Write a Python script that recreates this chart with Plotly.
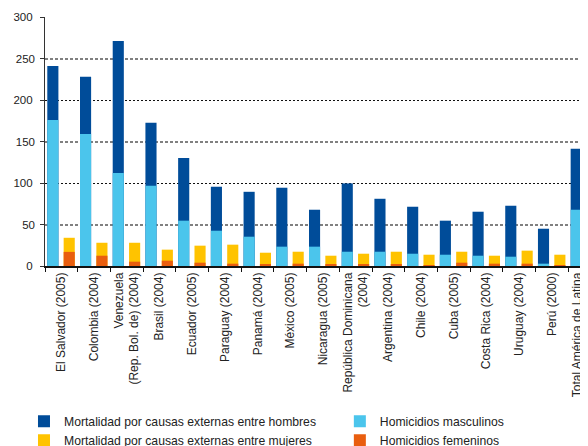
import plotly.graph_objects as go

countries = [
    "El Salvador (2005)", "Colombia (2004)", "Venezuela<br>(Rep. Bol. de) (2004)",
    "Brasil (2004)", "Ecuador (2005)", "Paraguay (2004)", "Panamá (2004)",
    "México (2005)", "Nicaragua (2005)", "República Dominicana<br>(2004)",
    "Argentina (2004)", "Chile (2004)", "Cuba (2005)", "Costa Rica (2004)",
    "Uruguay (2004)", "Perú (2000)", "Total América de Latina<br>(16 países)",
]
mort_hombres = [241, 228, 271, 172.5, 130, 95.5, 89.4, 94.3, 67.8, 99.5, 81, 71.4, 54.6, 65.4, 72.6, 44.9, 141.2]
homic_masc = [176, 159, 112, 96.7, 54.6, 42.5, 35.3, 23.3, 23.3, 17.2, 17.2, 14.8, 13.6, 12.4, 11.2, 2.8, 67.8]
mort_mujeres = [34, 28, 28, 19.7, 24.5, 25.7, 16, 17.2, 12.4, 14.8, 17.2, 13.6, 17.2, 12.4, 18.5, 13.6, 18.4]
homic_fem = [17, 12.4, 5.2, 6.4, 4, 2.8, 1.6, 2.8, 1.6, 1.6, 1.6, 0.5, 4, 2.8, 2.8, 0.3, 5.5]

C_DARK = "#004C99"
C_LIGHT = "#4BC5EC"
C_YEL = "#FFC300"
C_ORA = "#E95E0F"

W = 0.34
OFF_M = -0.43
OFF_F = 0.07

fig = go.Figure()
fig.add_bar(x=countries, y=mort_hombres, name="Mortalidad por causas externas entre hombres",
            marker=dict(color=C_DARK, line_width=0), width=W, offset=OFF_M, legend="legend")
fig.add_bar(x=countries, y=homic_masc, name="Homicidios masculinos",
            marker=dict(color=C_LIGHT, line_width=0), width=W, offset=OFF_M, legend="legend2")
fig.add_bar(x=countries, y=mort_mujeres, name="Mortalidad por causas externas entre mujeres",
            marker=dict(color=C_YEL, line_width=0), width=W, offset=OFF_F, legend="legend")
fig.add_bar(x=countries, y=homic_fem, name="Homicidios femeninos",
            marker=dict(color=C_ORA, line_width=0), width=W, offset=OFF_F, legend="legend2")
# helper trace for the secondary label axis
fig.add_scatter(x=[countries[0]], y=[None], yaxis="y2", showlegend=False, hoverinfo="skip")

FONT = "Liberation Sans, Arial, sans-serif"
LEG = dict(orientation="v", xanchor="left", yanchor="top", y=-0.565,
           traceorder="normal", font=dict(size=12.2, color="#222222", family=FONT),
           itemclick=False, bgcolor="rgba(0,0,0,0)", borderwidth=0, tracegroupgap=0)

fig.update_layout(
    width=580, height=438,
    margin=dict(l=37, r=0, t=9, b=180, autoexpand=False),
    barmode="overlay",
    plot_bgcolor="white", paper_bgcolor="white",
    font=dict(family=FONT, size=12, color="#222222"),
    showlegend=True,
    legend=dict(x=-0.0387, **LEG),
    legend2=dict(x=0.543, **LEG),
    xaxis=dict(
        type="category", range=[-0.5, 16.1], tickangle=-90,
        showline=True, linecolor="#111111", linewidth=1.5,
        ticks="outside", ticklen=4, tickcolor="#111111", tickson="boundaries",
        showgrid=False, tickfont=dict(size=12, family=FONT),
    ),
    yaxis=dict(
        range=[0, 300], dtick=100, tick0=0,
        showline=True, linecolor="#333333", linewidth=1.2,
        ticks="outside", ticklen=4, tickcolor="#333333", ticklabelstandoff=5,
        showgrid=True, gridcolor="#111111", gridwidth=1, griddash="2px,2px",
        zeroline=False, tickfont=dict(size=11.5, family=FONT),
        minor=dict(dtick=50, showgrid=True, gridcolor="#808080", gridwidth=2,
                   griddash="3px,2px", ticks="outside", ticklen=4, tickcolor="#333333"),
    ),
    yaxis2=dict(
        overlaying="y", side="left", range=[0, 300], tickvals=[50, 150, 250],
        showgrid=False, zeroline=False, showline=False, ticks="", ticklabelstandoff=9,
        tickfont=dict(size=11.5, family=FONT),
    ),
)

fig.write_html("out.html")
